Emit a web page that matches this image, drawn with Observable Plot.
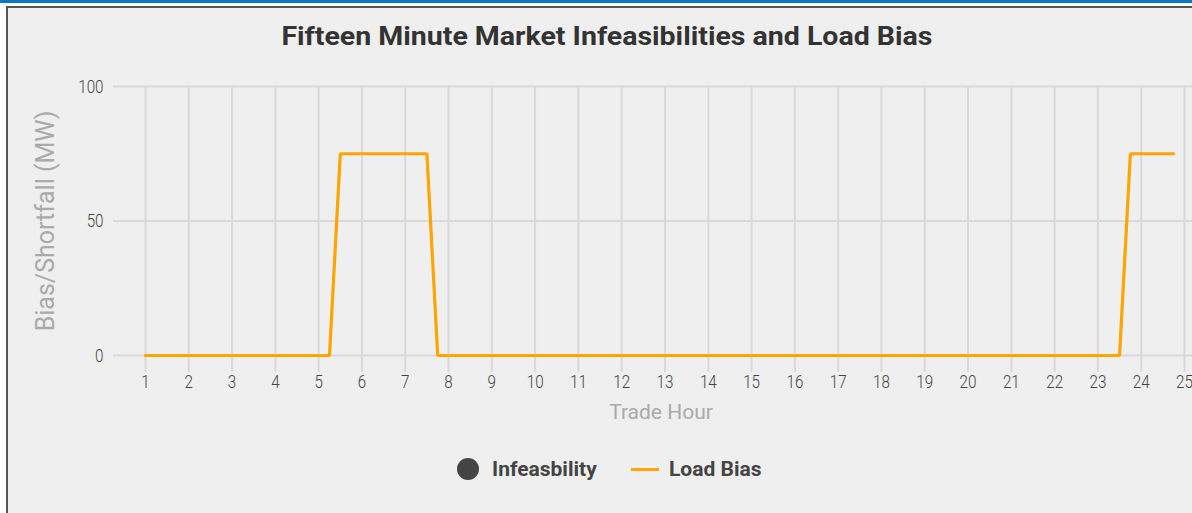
<!DOCTYPE html>
<html>
<head>
<meta charset="utf-8">
<script src="https://cdn.jsdelivr.net/npm/d3@7"></script>
<script src="https://cdn.jsdelivr.net/npm/@observablehq/plot@0.6"></script>
<style>
  html, body { margin: 0; padding: 0; background: #ffffff; width: 1192px; height: 513px; overflow: hidden; position: relative; font-family: Roboto, "Noto Sans", sans-serif; }
  #topbar { position: absolute; left: 0; top: 0; width: 1192px; height: 3px; background: #0a78c2; }
  #panel { position: absolute; left: 6px; top: 6px; width: 1186px; height: 507px; background: #efefef; border-left: 2px solid #555; border-top: 2px solid #555; box-sizing: border-box; }
  #title { position: absolute; top: 21px; left: 11px; width: 1192px; text-align: center; font-weight: 700; font-size: 26px; color: #333; white-space: nowrap; }
  #title span { display: inline-block; transform-origin: center; }
  #chart { position: absolute; left: 0; top: 0; }
  #legend { position: absolute; top: 455px; left: 0; width: 1192px; height: 30px; font-weight: 700; font-size: 21px; color: #444; }
  .lg { position: absolute; top: 0; display: flex; align-items: center; height: 28px; white-space: nowrap; }
</style>
</head>
<body>
<div id="topbar"></div>
<div id="panel"></div>
<div id="title"><span id="titletext"></span></div>
<div id="chart"></div>
<div id="legend"></div>
<script>
// ---- data ----
const titleText = "Fifteen Minute Market Infeasibilities and Load Bias";
const xLabel = "Trade Hour";
const yLabel = "Bias/Shortfall (MW)";
const hourTicks = [1,2,3,4,5,6,7,8,9,10,11,12,13,14,15,16,17,18,19,20,21,22,23,24,25];
const yTicks = [0, 50, 100];
// Load bias at each 15-minute interval (trade hour + quarter)
const intervalHours = [
  1,1.25,1.5,1.75, 2,2.25,2.5,2.75, 3,3.25,3.5,3.75, 4,4.25,4.5,4.75,
  5,5.25,5.5,5.75, 6,6.25,6.5,6.75, 7,7.25,7.5,7.75, 8,8.25,8.5,8.75,
  9,9.25,9.5,9.75, 10,10.25,10.5,10.75, 11,11.25,11.5,11.75, 12,12.25,12.5,12.75,
  13,13.25,13.5,13.75, 14,14.25,14.5,14.75, 15,15.25,15.5,15.75, 16,16.25,16.5,16.75,
  17,17.25,17.5,17.75, 18,18.25,18.5,18.75, 19,19.25,19.5,19.75, 20,20.25,20.5,20.75,
  21,21.25,21.5,21.75, 22,22.25,22.5,22.75, 23,23.25,23.5,23.75, 24,24.25,24.5,24.75
];
const loadBias = [
  0,0,0,0, 0,0,0,0, 0,0,0,0, 0,0,0,0,
  0,0,75,75, 75,75,75,75, 75,75,75,0, 0,0,0,0,
  0,0,0,0, 0,0,0,0, 0,0,0,0, 0,0,0,0,
  0,0,0,0, 0,0,0,0, 0,0,0,0, 0,0,0,0,
  0,0,0,0, 0,0,0,0, 0,0,0,0, 0,0,0,0,
  0,0,0,0, 0,0,0,0, 0,0,0,75, 75,75,75,75
];
const infeasHours = [];
const infeasValues = [];
const seriesNames = ["Infeasbility", "Load Bias"];
const seriesColors = ["#444444", "#ffa500"];

const biasData = intervalHours.map((h, i) => ({hour: h, value: loadBias[i]}));
const infeasData = infeasHours.map((h, i) => ({hour: h, value: infeasValues[i]}));

const W = 1192, H = 440;

const plot = Plot.plot({
  width: W,
  height: H,
  marginLeft: 145,
  marginRight: 8,
  marginTop: 86,
  marginBottom: H - 355,
  style: { background: "transparent", fontFamily: "Roboto, sans-serif", overflow: "visible" },
  x: { domain: [1, 25] },
  y: { domain: [0, 100] },
  marks: [
    Plot.ruleY(yTicks, { stroke: "#d9d9d9", strokeWidth: 2, insetLeft: -32, insetRight: -8 }),
    Plot.ruleX(hourTicks, { stroke: "#d9d9d9", strokeWidth: 2, insetBottom: -17 }),
    Plot.axisX(hourTicks, { tickSize: 0, tickPadding: 19, fontSize: 19, color: "#444", label: null, tickFormat: d => String(d) }),
    Plot.axisY(yTicks, { tickSize: 0, tickPadding: 42, fontSize: 19, color: "#444", label: null }),
    Plot.line(biasData, { x: "hour", y: "value", stroke: seriesColors[1], strokeWidth: 3.2, strokeLinejoin: "miter" }),
    Plot.dot(infeasData, { x: "hour", y: "value", fill: seriesColors[0], r: 6 }),
    Plot.text([xLabel], { frameAnchor: "bottom", dy: 63, dx: -4, text: d => d, fontSize: 21, fill: "#aaaaaa", fontFamily: "Roboto" }),
    Plot.text([yLabel], { frameAnchor: "left", textAnchor: "middle", dx: -100, rotate: -90, text: d => d, fontSize: 25, fill: "#aaaaaa", fontFamily: "Roboto" })
  ]
});
document.getElementById("chart").appendChild(plot);

// condense tick labels horizontally (thin condensed look), scaling about each label's own anchor
plot.querySelectorAll("g[aria-label$='tick label'] text").forEach(t => {
  const bb = t.getBBox();
  const anchor = t.getAttribute("text-anchor") || (t.parentNode.getAttribute("text-anchor")) || "middle";
  const ax = anchor === "end" ? bb.x + bb.width : anchor === "start" ? bb.x : bb.x + bb.width / 2;
  const tr = t.getAttribute("transform") || "";
  t.setAttribute("transform", `${tr} translate(${ax},0) scale(0.8,1) translate(${-ax},0)`);
  t.setAttribute("font-weight", "300");
});

// title
const tt = document.getElementById("titletext");
tt.textContent = titleText;
const tw = tt.getBoundingClientRect().width;
tt.style.transform = `scaleX(${651 / tw})`;

// legend
const legend = document.getElementById("legend");
legend.innerHTML = `
  <div class="lg" style="left:457px"><span style="display:inline-block;width:22px;height:22px;border-radius:50%;background:${seriesColors[0]};margin-right:13px"></span>${seriesNames[0]}</div>
  <div class="lg" style="left:631px"><span style="display:inline-block;width:28px;height:3px;background:${seriesColors[1]};margin-right:10px"></span>${seriesNames[1]}</div>
`;
</script>
</body>
</html>
